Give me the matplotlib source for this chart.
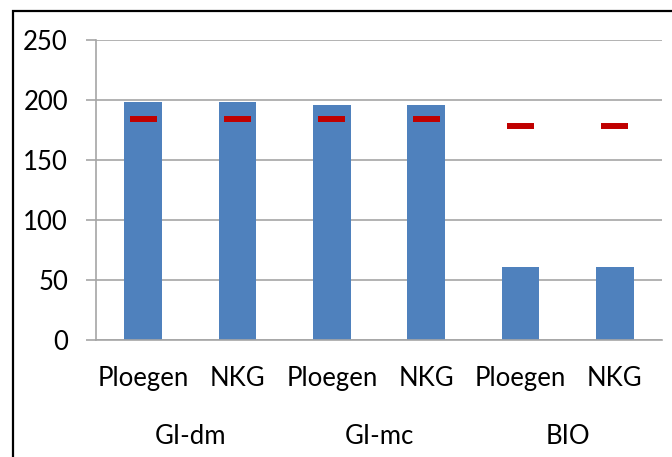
import matplotlib.pyplot as plt
from matplotlib.patches import Rectangle

plt.rcParams['font.family'] = ['Lato', 'DejaVu Sans']

# Data
groups = ['GI-dm', 'GI-mc', 'BIO']
tick_labels = ['Ploegen', 'NKG', 'Ploegen', 'NKG', 'Ploegen', 'NKG']
values = [198, 198, 196, 196, 61, 61]
targets = [184, 184, 184, 184, 178, 178]

fig = plt.figure(figsize=(6.72, 4.57), dpi=100)
ax = fig.add_axes([0.1429, 0.256, 0.8422, 0.6565])

x = list(range(len(values)))
ax.bar(x, values, width=0.40, color='#4F81BD', zorder=2)
ax.hlines(targets, [i - 0.143 for i in x], [i + 0.143 for i in x],
          colors='#C00000', linewidth=4.3, zorder=3)

ax.set_xlim(-0.5, 5.5)
ax.set_ylim(0, 250)
ax.set_yticks(range(0, 251, 50))
ax.grid(axis='y', color='#A6A6A6', linewidth=1.2, zorder=0)

for side in ['top', 'right']:
    ax.spines[side].set_visible(False)
ax.spines['left'].set_color('#A6A6A6')
ax.spines['bottom'].set_color('#A6A6A6')
ax.spines['left'].set_linewidth(1.2)
ax.spines['bottom'].set_linewidth(1.2)

ax.set_xticks(x)
ax.set_xticklabels(tick_labels)
ax.tick_params(axis='x', length=0, pad=19, labelsize=18.5)
ax.tick_params(axis='y', length=7.2, width=1.2, color='#A6A6A6', pad=13, labelsize=18.5)

for i, g in enumerate(groups):
    ax.text(2 * i + 0.5, -0.323, g, transform=ax.get_xaxis_transform(),
            ha='center', va='center', fontsize=18.5)

# outer frame
fig.patches.append(Rectangle((13 / 672, -0.1), 1.2, 1.1 - 11 / 457,
                             transform=fig.transFigure, fill=False,
                             edgecolor='black', linewidth=1.6))

plt.savefig('out.png', dpi=100)
